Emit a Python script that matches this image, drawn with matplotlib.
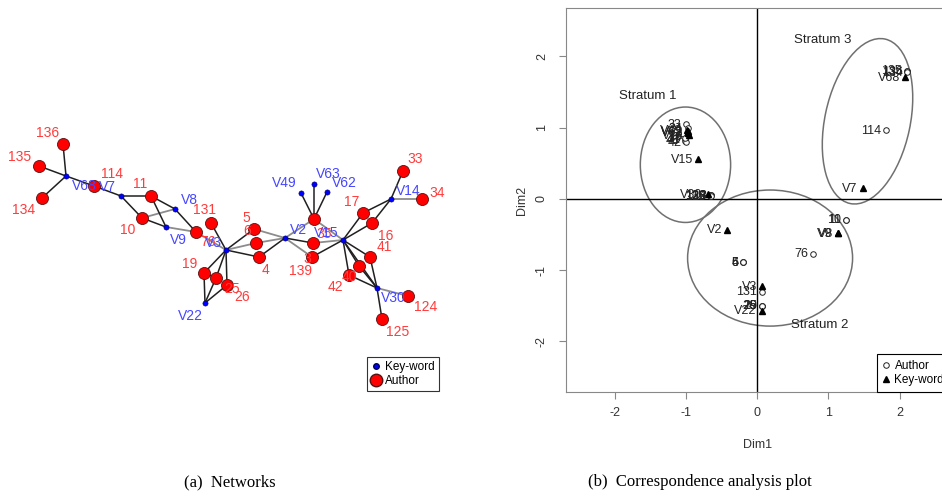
import matplotlib
matplotlib.use('Agg')
from matplotlib import pyplot as plt
from matplotlib.lines import Line2D
from matplotlib.patches import Ellipse

plt.rcParams['font.family'] = ['Liberation Sans', 'DejaVu Sans']
plt.rcParams['axes.unicode_minus'] = False

# ---- (a) network: node layout in pixel units of the left panel ----
kw_names = ["V68", "V7", "V8", "V9", "V3", "V22", "V2", "V15", "V49", "V63", "V62", "V14", "V30"]
kw_x = [66, 121, 175, 166, 226, 205, 285, 343, 301, 314, 327, 391, 377]
kw_y = [176, 196, 209, 227, 250, 303, 238, 240, 193, 184, 192, 199, 288]
kw_lx = [84, 107, 189, 178, 213, 190, 299, 326, 284, 328, 344, 408, 393]
kw_ly = [186, 187, 200, 240, 243, 316, 230, 233, 183, 174, 183, 191, 298]

au_names = ["136", "135", "134", "114", "11", "10", "76", "131", "5", "6", "4", "19", "26", "25",
            "35", "3", "139", "17", "16", "41", "40", "42", "33", "34", "124", "125"]
au_x = [63, 39, 42, 94, 151, 142, 196, 211, 254, 256, 259, 204, 216, 227,
        314, 313, 312, 363, 372, 370, 359, 349, 403, 422, 408, 382]
au_y = [144, 166, 198, 186, 196, 218, 232, 223, 229, 243, 257, 273, 278, 285,
        219, 243, 257, 213, 223, 257, 266, 275, 171, 199, 296, 319]
au_lx = [48, 20, 24, 112, 140, 128, 208, 205, 246, 247, 265, 190, 242, 232,
         324, 307, 300, 352, 386, 384, 349, 335, 415, 437, 426, 398]
au_ly = [133, 157, 210, 174, 184, 230, 242, 210, 218, 231, 270, 264, 297, 289,
         234, 259, 271, 202, 236, 247, 277, 287, 159, 193, 307, 332]

strong_edges = [("V68", "136"), ("V68", "135"), ("V68", "134"), ("V68", "114"), ("114", "V7"),
                ("V7", "11"), ("V7", "10"), ("11", "V8"), ("11", "V9"), ("10", "V9"),
                ("V8", "76"), ("131", "V3"), ("V3", "4"), ("V3", "19"), ("V3", "26"),
                ("V3", "25"), ("V22", "19"), ("V22", "26"), ("V22", "25"), ("19", "26"),
                ("4", "V2"), ("V2", "3"), ("35", "V49"), ("35", "V63"), ("35", "V62"),
                ("139", "V15"), ("V15", "17"), ("V15", "16"), ("V15", "41"), ("V15", "40"),
                ("V15", "42"), ("17", "V14"), ("16", "V14"), ("V14", "33"), ("V30", "41"),
                ("V30", "40"), ("V30", "42"), ("V30", "125"), ("V15", "V30"), ("V3", "5")]
weak_edges = [("76", "V3"), ("V9", "76"), ("10", "V8"), ("V3", "6"), ("5", "V2"), ("6", "V2"),
              ("V2", "35"), ("V2", "139"), ("35", "V15"), ("3", "V15"), ("V14", "34"),
              ("V30", "124")]

# ---- (b) correspondence analysis coordinates ----
ca_au = ["136", "135", "134", "114", "33", "34", "41", "40", "42", "16", "17",
         "139", "3", "35", "124", "125", "10", "11", "76", "5", "6", "4", "131", "26", "19", "25"]
ca_au_x = [2.11, 2.10, 2.11, 1.81, -1.00, -0.98, -1.01, -1.02, -1.00, -0.99, -1.01,
           -0.66, -0.65, -0.66, -0.65, -0.65, 1.25, 1.25, 0.79, -0.20, -0.20, -0.20, 0.06, 0.06, 0.06, 0.06]
ca_au_y = [1.79, 1.80, 1.78, 0.97, 1.05, 0.99, 0.84, 0.82, 0.80, 0.88, 0.86,
           0.05, 0.05, 0.04, 0.05, 0.04, -0.29, -0.29, -0.77, -0.89, -0.89, -0.89, -1.30, -1.50, -1.50, -1.50]
ca_kw = ["V68", "V7", "V14", "V63", "V62", "V49", "V15", "V30", "V2", "V8", "V9", "V3", "V22"]
ca_kw_x = [2.08, 1.48, -0.96, -0.98, -0.97, -0.99, -0.84, -0.70, -0.42, 1.13, 1.13, 0.06, 0.06]
ca_kw_y = [1.71, 0.15, 0.90, 0.93, 0.95, 0.97, 0.56, 0.07, -0.43, -0.48, -0.48, -1.22, -1.57]

strata = ["Stratum 1", "Stratum 2", "Stratum 3"]
strata_cx = [-1.01, 0.18, 1.55]
strata_cy = [0.48, -0.83, 1.09]
strata_w = [1.27, 2.32, 1.20]
strata_h = [1.62, 1.91, 2.36]
strata_ang = [0, 0, -12]
strata_lx = [-1.54, 0.88, 0.92]
strata_ly = [1.44, -1.77, 2.23]

red_txt = '#ff3b3b'
blue_txt = '#4646ff'

fig = plt.figure(figsize=(9.42, 4.98), dpi=100, facecolor='white')

# ---------------- left panel ----------------
ax = fig.add_axes([0, 0, 470 / 942, 1])
ax.set_xlim(0, 470)
ax.set_ylim(498, 0)
ax.axis('off')

pos = {}
for n, x, y in zip(kw_names, kw_x, kw_y):
    pos[n] = (x, y)
for n, x, y in zip(au_names, au_x, au_y):
    pos[n] = (x, y)

for a, b in weak_edges:
    ax.plot([pos[a][0], pos[b][0]], [pos[a][1], pos[b][1]], color='#8c8c8c', lw=1.3, zorder=1)
for a, b in strong_edges:
    ax.plot([pos[a][0], pos[b][0]], [pos[a][1], pos[b][1]], color='#202020', lw=1.1, zorder=1)

ax.scatter(au_x, au_y, s=75, color='#ff0000', edgecolors='#5a1010', linewidths=0.6, zorder=3)
ax.scatter(kw_x, kw_y, s=14, color='#0000ff', edgecolors='#000050', linewidths=0.4, zorder=3)

for n, lx, ly in zip(au_names, au_lx, au_ly):
    ax.text(lx, ly, n, color=red_txt, fontsize=10, ha='center', va='center', zorder=4)
for n, lx, ly in zip(kw_names, kw_lx, kw_ly):
    ax.text(lx, ly, n, color=blue_txt, fontsize=10, ha='center', va='center', zorder=4)

h1 = [Line2D([], [], ls='', marker='o', ms=4, color='#0000ff', mec='#000050'),
      Line2D([], [], ls='', marker='o', ms=9, color='#ff0000', mec='#5a1010')]
leg = ax.legend(h1, ['Key-word', 'Author'], loc='upper left', bbox_to_anchor=(367, 357),
                bbox_transform=ax.transData, borderaxespad=0, fontsize=8.5, frameon=True,
                fancybox=False, edgecolor='black', handlelength=0.8, handletextpad=0.4,
                labelspacing=0.15, borderpad=0.35)
leg.get_frame().set_linewidth(0.8)

# ---------------- right panel ----------------
ax2 = fig.add_axes([566 / 942, 1 - 392 / 498, 384 / 942, 384 / 498])
ax2.set_xlim(-2.69, 2.71)
ax2.set_ylim(-2.71, 2.68)
ax2.axhline(0, color='black', lw=1)
ax2.axvline(0, color='black', lw=1)

for name, cx, cy, w, h, a, lx, ly in zip(strata, strata_cx, strata_cy, strata_w, strata_h,
                                         strata_ang, strata_lx, strata_ly):
    ax2.add_patch(Ellipse((cx, cy), w, h, angle=a, fill=False, ec='#707070', lw=1.1))
    ax2.text(lx, ly, name, fontsize=9.5, ha='center', va='center', color='#222222')

ax2.plot(ca_au_x, ca_au_y, ls='', marker='o', ms=4, mfc='white', mec='#222222', mew=0.7)
ax2.plot(ca_kw_x, ca_kw_y, ls='', marker='^', ms=5, color='black')
for n, x, y in zip(ca_au + ca_kw, ca_au_x + ca_kw_x, ca_au_y + ca_kw_y):
    ax2.annotate(n, (x, y), xytext=(-3.5, -0.5), textcoords='offset points', ha='right',
                 va='center', fontsize=9, color='#222222')

for s in ax2.spines.values():
    s.set_color('#888888')
ax2.set_xticks([-2, -1, 0, 1, 2])
ax2.set_yticks([-2, -1, 0, 1, 2])
ax2.tick_params(direction='out', length=5, color='#888888', labelcolor='#333333', labelsize=9)
ax2.tick_params(axis='x', pad=6)
ax2.tick_params(axis='y', pad=8)
for t in ax2.get_yticklabels():
    t.set_rotation(90)
    t.set_va('center')
ax2.set_xlabel('Dim1', fontsize=9, color='#333333', labelpad=14)
ax2.set_ylabel('Dim2', fontsize=9, color='#333333', labelpad=6)

h2 = [Line2D([], [], ls='', marker='o', ms=4, mfc='white', mec='#222222', mew=0.7),
      Line2D([], [], ls='', marker='^', ms=5, color='black')]
leg2 = ax2.legend(h2, ['Author', 'Key-word'], loc='lower right', borderaxespad=0, fontsize=8.5,
                  frameon=True, fancybox=False, edgecolor='black', handlelength=0.6,
                  handletextpad=0.4, labelspacing=0.15, borderpad=0.5, framealpha=1)
leg2.get_frame().set_linewidth(0.8)

fig.text(230 / 942, 1 - 482 / 498, '(a)  Networks', family='Liberation Serif', fontsize=12,
         ha='center', va='center')
fig.text(700 / 942, 1 - 482 / 498, '(b)  Correspondence analysis plot', family='Liberation Serif',
         fontsize=12, ha='center', va='center')

fig.savefig('out.png', dpi=100, facecolor='white')
